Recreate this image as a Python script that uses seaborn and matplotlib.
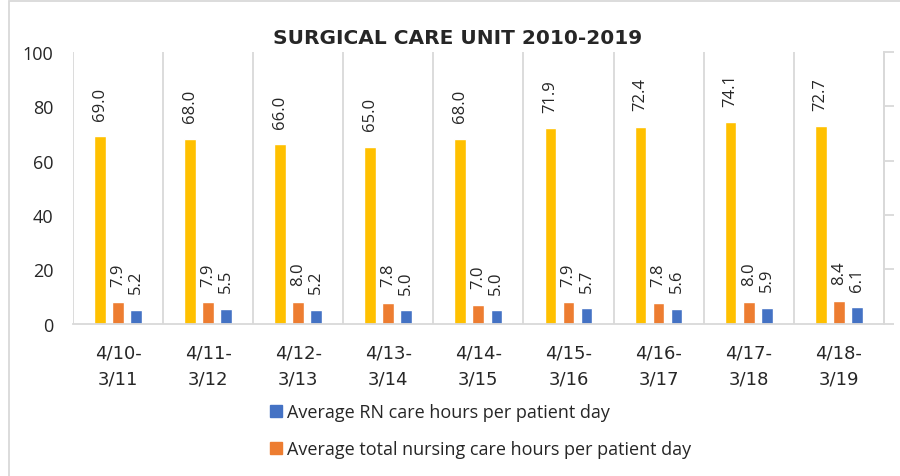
# Surgical care unit: care hours per patient day, 2010-2019
import pandas as pd
import matplotlib.pyplot as plt
import seaborn as sns
from matplotlib.patches import Patch, Rectangle

periods = ["4/10-\n3/11", "4/11-\n3/12", "4/12-\n3/13", "4/13-\n3/14", "4/14-\n3/15",
           "4/15-\n3/16", "4/16-\n3/17", "4/17-\n3/18", "4/18-\n3/19"]
census = [69.0, 68.0, 66.0, 65.0, 68.0, 71.9, 72.4, 74.1, 72.7]
total_hours = [7.9, 7.9, 8.0, 7.8, 7.0, 7.9, 7.8, 8.0, 8.4]
rn_hours = [5.2, 5.5, 5.2, 5.0, 5.0, 5.7, 5.6, 5.9, 6.1]

series = ["Census", "Average total nursing care hours per patient day",
          "Average RN care hours per patient day"]
colors = ["#FFC000", "#ED7D31", "#4472C4"]

df = pd.DataFrame({
    "period": periods * 3,
    "value": census + total_hours + rn_hours,
    "series": [series[0]] * 9 + [series[1]] * 9 + [series[2]] * 9,
})

sns.set_style("white")
plt.rcParams['font.family'] = ['Open Sans', 'DejaVu Sans']

fig = plt.figure(figsize=(9, 4.77), dpi=100)
ax = fig.add_axes([0.081, 0.319, 0.901, 0.570])

sns.barplot(data=df, x="period", y="value", hue="series", palette=colors,
            width=0.6, gap=0.35, dodge=True, legend=False, ax=ax, saturation=1)

# value labels
for cont in ax.containers:
    for bar in cont:
        h = bar.get_height()
        ax.annotate(f"{h:.1f}", (bar.get_x() + bar.get_width() / 2, h),
                    xytext=(0, 12), textcoords="offset points",
                    rotation=90, ha="center", va="bottom", fontsize=12)

ax.set_ylim(0, 100)
ax.set_xlim(-0.5, len(periods) - 0.5)
ax.set_yticks([0, 20, 40, 60, 80, 100])
ax.set_xlabel("")
ax.set_ylabel("")
ax.tick_params(axis="y", length=0, labelsize=13, pad=14)
ax.tick_params(axis="x", length=0, labelsize=13, pad=14)
for t in ax.get_xticklabels():
    t.set_family(['DejaVu Sans'])
    t.set_linespacing(1.6)

# category separators
for i in range(len(periods)):
    ax.axvline(i - 0.5, color="#D9D9D9", lw=1.3, zorder=0)

for s in ["top", "left"]:
    ax.spines[s].set_visible(False)
ax.spines["bottom"].set_color("#D9D9D9")
ax.spines["bottom"].set_linewidth(1.3)
ax.spines["right"].set_color("#D9D9D9")
ax.spines["right"].set_linewidth(1.3)

# right axis with tick marks only
ax2 = ax.twinx()
ax2.set_ylim(0, 100)
ax2.set_yticks([0, 20, 40, 60, 80, 100])
ax2.set_yticklabels([])
ax2.tick_params(axis="y", length=7, color="#D9D9D9", width=1.3)
for s in ["top", "left", "bottom"]:
    ax2.spines[s].set_visible(False)
ax2.spines["right"].set_color("#D9D9D9")
ax2.spines["right"].set_linewidth(1.3)

fig.text(0.508, 0.92, "SURGICAL CARE UNIT 2010-2019", ha="center", va="center",
         fontsize=14.5, fontweight="bold", family=['DejaVu Sans'])

handles = [Patch(color=colors[2]), Patch(color=colors[1])]
fig.legend(handles, [series[2], series[1]], loc="upper left",
           bbox_to_anchor=(0.292, 0.168), frameon=False, fontsize=13,
           handlelength=0.65, handleheight=0.65, handletextpad=0.3,
           labelspacing=1.05, borderaxespad=0)

# outer chart frame
fig.patches.append(Rectangle((0.01, -0.1), 1.2, 1.095, transform=fig.transFigure,
                             fill=False, edgecolor="#D9D9D9", lw=1.3))

fig.savefig("out.png", dpi=100)
